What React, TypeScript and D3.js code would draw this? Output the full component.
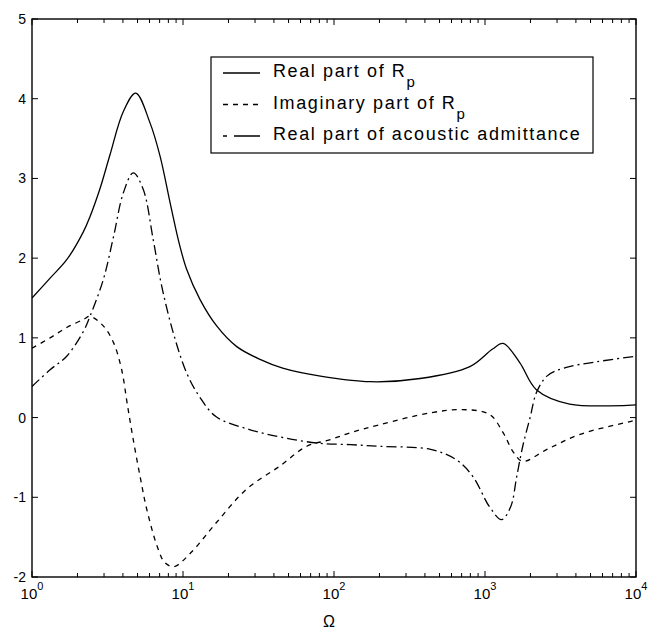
import React from "react";
import * as d3 from "d3";

// Frequency samples (Ω) and curve values
const omegaReal = [1, 1.318, 1.698, 2.188, 2.421, 2.818, 3.289, 4.027, 4.864, 6.039, 7.047, 8.204, 9.311, 10.57, 12.97, 16.71, 22.7, 32.36, 45.71, 81.28, 173.8, 371.5, 794.3, 1122, 1318, 1698, 2188, 3631, 10000];
const realRp = [1.5, 1.75, 1.98, 2.33, 2.52, 2.87, 3.3, 3.84, 4.07, 3.7, 3.28, 2.7, 2.23, 1.86, 1.48, 1.15, 0.89, 0.73, 0.62, 0.52, 0.45, 0.49, 0.64, 0.86, 0.93, 0.69, 0.35, 0.17, 0.16];

const omegaImag = [1, 1.318, 1.698, 2.188, 2.421, 2.965, 3.467, 3.926, 4.266, 4.677, 5.248, 5.754, 6.761, 7.586, 8.71, 11.22, 16.6, 26.3, 43.65, 66.07, 93.33, 128.8, 199.5, 436.5, 707.9, 1072, 1318, 1549, 1778, 2570, 4266, 9120, 10000];
const imagRp = [0.87, 1.0, 1.13, 1.23, 1.27, 1.15, 0.94, 0.6, 0.18, -0.27, -0.78, -1.15, -1.62, -1.82, -1.87, -1.7, -1.32, -0.9, -0.61, -0.36, -0.28, -0.19, -0.09, 0.06, 0.1, 0.04, -0.19, -0.44, -0.55, -0.4, -0.21, -0.05, -0.03];

const omegaAdm = [1, 1.318, 1.698, 2.188, 2.421, 2.965, 3.467, 4.027, 4.688, 5.458, 6.353, 7.228, 8.63, 10.57, 12.88, 16.6, 27.54, 45.71, 77.62, 128.8, 199.5, 436.5, 645.7, 831.8, 1072, 1288, 1479, 1622, 1778, 1995, 2188, 2570, 3311, 5495, 10000];
const admittance = [0.39, 0.6, 0.77, 1.08, 1.27, 1.73, 2.27, 2.82, 3.07, 2.86, 2.23, 1.65, 1.06, 0.56, 0.26, 0.01, -0.15, -0.25, -0.32, -0.34, -0.36, -0.4, -0.53, -0.74, -1.12, -1.28, -1.12, -0.74, -0.36, 0.01, 0.31, 0.52, 0.62, 0.7, 0.77];

const yTicks = [-2, -1, 0, 1, 2, 3, 4, 5];
const xDecades = [0, 1, 2, 3, 4];

const legendItems = [
  { label: "Real part of R", sub: "p", dash: "none" },
  { label: "Imaginary part of R", sub: "p", dash: "5,5" },
  { label: "Real part of acoustic admittance", sub: "", dash: "4,7,26,0" },
];

const W = 648;
const H = 629;
const left = 32;
const right = 636;
const top = 19;
const bottom = 577;

export default function App() {
  const x = d3.scaleLog().domain([1, 10000]).range([left, right]);
  const y = d3.scaleLinear().domain([-2, 5]).range([bottom, top]);

  const line = d3
    .line<[number, number]>()
    .x((d) => x(d[0]))
    .y((d) => y(d[1]))
    .curve(d3.curveCatmullRom.alpha(0.5));

  const series = [
    { xs: omegaReal, ys: realRp, dash: "none" },
    { xs: omegaImag, ys: imagRp, dash: "5,5" },
    { xs: omegaAdm, ys: admittance, dash: "10,4,2,4" },
  ];

  const minorTicks: number[] = [];
  for (let e = 0; e < 4; e++) {
    for (let m = 2; m <= 9; m++) minorTicks.push(m * Math.pow(10, e));
  }

  const font = "'Liberation Sans', Arial, Helvetica, sans-serif";

  return (
    <svg
      width={W}
      height={H}
      style={{ position: "absolute", left: 0, top: 0, background: "#fff" }}
      fontFamily={font}
    >
      <rect x={0} y={0} width={W} height={H} fill="#fff" />
      <defs>
        <clipPath id="plotClip">
          <rect x={left} y={top} width={right - left} height={bottom - top} />
        </clipPath>
      </defs>

      {/* curves */}
      <g clipPath="url(#plotClip)">
        {series.map((s, i) => (
          <path
            key={i}
            d={line(s.xs.map((v, j) => [v, s.ys[j]] as [number, number])) || ""}
            fill="none"
            stroke="#000"
            strokeWidth={1.3}
            strokeDasharray={s.dash}
          />
        ))}
      </g>

      {/* frame */}
      <rect x={left} y={top} width={right - left} height={bottom - top} fill="none" stroke="#000" strokeWidth={1.4} />

      {/* y ticks */}
      {yTicks.map((t) => (
        <g key={t}>
          <line x1={left} x2={left + 6} y1={y(t)} y2={y(t)} stroke="#000" strokeWidth={1} />
          <line x1={right} x2={right - 6} y1={y(t)} y2={y(t)} stroke="#000" strokeWidth={1} />
          <text x={left - 6} y={y(t) + 5} textAnchor="end" fontSize={14} fill="#000">
            {t}
          </text>
        </g>
      ))}

      {/* x ticks */}
      {xDecades.map((e) => {
        const v = Math.pow(10, e);
        return (
          <g key={e}>
            <line x1={x(v)} x2={x(v)} y1={bottom} y2={bottom - 6} stroke="#000" strokeWidth={1} />
            <line x1={x(v)} x2={x(v)} y1={top} y2={top + 6} stroke="#000" strokeWidth={1} />
            <text x={x(v)} y={599} textAnchor="middle" fontSize={15} fill="#000">
              10
              <tspan dy={-9} fontSize={11}>
                {e}
              </tspan>
            </text>
          </g>
        );
      })}
      {minorTicks.map((v) => (
        <g key={v}>
          <line x1={x(v)} x2={x(v)} y1={bottom} y2={bottom - 4} stroke="#000" strokeWidth={1} />
          <line x1={x(v)} x2={x(v)} y1={top} y2={top + 4} stroke="#000" strokeWidth={1} />
        </g>
      ))}

      {/* x-axis title */}
      <text x={329} y={627} textAnchor="middle" fontSize={16} fill="#000">
        Ω
      </text>

      {/* legend */}
      <g>
        <rect x={211} y={57} width={382} height={96} fill="#fff" stroke="#000" strokeWidth={1.2} />
        {legendItems.map((it, i) => {
          const ly = 73 + i * 31.5;
          return (
            <g key={i}>
              <line
                x1={223}
                x2={260}
                y1={ly}
                y2={ly}
                stroke="#000"
                strokeWidth={1.3}
                strokeDasharray={it.dash}
              />
              <text x={273} y={ly + 4} fontSize={18} letterSpacing={1.6} fill="#000">
                {it.label}
                {it.sub ? (
                  <tspan dy={10} fontSize={15}>
                    {it.sub}
                  </tspan>
                ) : null}
              </text>
            </g>
          );
        })}
      </g>
    </svg>
  );
}
